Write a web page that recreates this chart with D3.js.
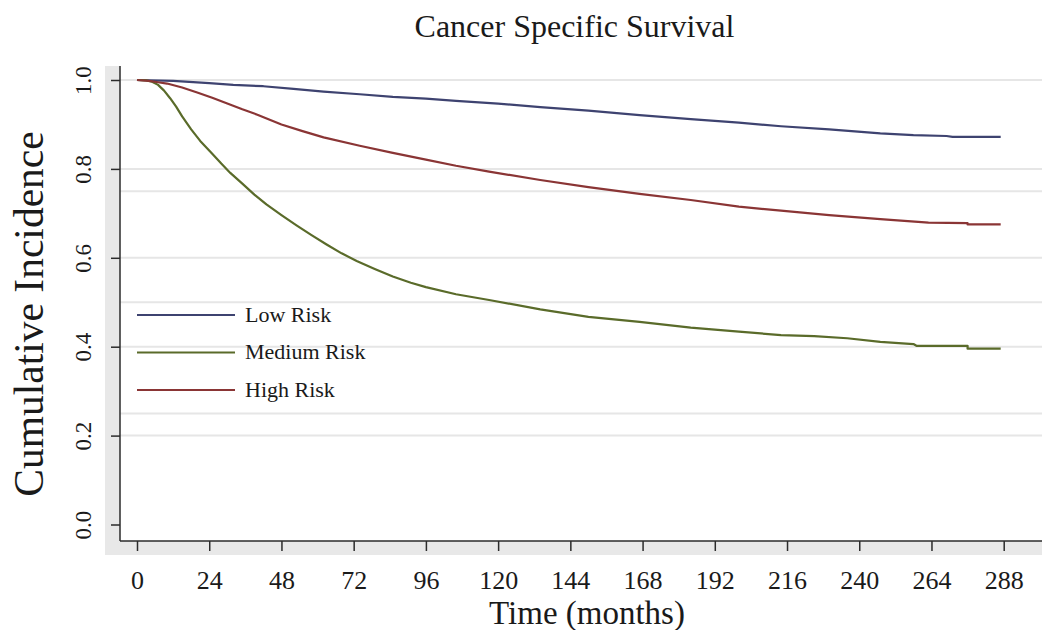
<!DOCTYPE html>
<html>
<head>
<meta charset="utf-8">
<script src="https://cdn.jsdelivr.net/npm/d3@7"></script>
<style>
  body { margin: 0; background: #fff; }
  text { font-family: "Liberation Serif", "Times New Roman", serif; fill: #1a1a1a; }
</style>
</head>
<body>
<script>
// data: [month, value]
const lowRisk = [[0,1.0],[12,0.998],[24,0.993],[32,0.989],[42,0.986],[52,0.98],[62,0.974],[74,0.968],[85,0.962],[96,0.958],[106,0.953],[120,0.947],[134,0.939],[150,0.931],[167,0.921],[184,0.912],[200,0.904],[214,0.896],[230,0.889],[247,0.88],[258,0.876],[269,0.874],[271,0.872],[287,0.872]];
const mediumRisk = [[0,1.0],[3,0.999],[5,0.996],[7,0.989],[9,0.976],[11,0.959],[13,0.94],[15,0.918],[18,0.889],[21,0.863],[25,0.834],[28,0.812],[31,0.791],[35,0.767],[39,0.742],[43,0.72],[48,0.696],[53,0.673],[58,0.651],[63,0.63],[68,0.61],[73,0.593],[79,0.575],[85,0.558],[91,0.544],[96,0.534],[106,0.518],[117,0.505],[134,0.484],[150,0.467],[167,0.456],[184,0.443],[200,0.434],[214,0.426],[225,0.424],[236,0.419],[247,0.411],[258,0.406],[259,0.402],[276,0.402],[276,0.3955],[287,0.3955]];
const highRisk = [[0,1.0],[4,0.998],[7,0.995],[10,0.992],[15,0.983],[20,0.972],[25,0.96],[30,0.947],[35,0.934],[40,0.922],[48,0.9],[55,0.885],[62,0.871],[74,0.852],[85,0.836],[96,0.821],[106,0.807],[117,0.794],[134,0.775],[150,0.759],[167,0.744],[184,0.73],[200,0.715],[214,0.706],[230,0.696],[247,0.687],[263,0.679],[276,0.678],[276,0.675],[287,0.675]];

const seriesNames = ['Low Risk', 'Medium Risk', 'High Risk'];
const seriesColors = ['#3e4370', '#5a6b2a', '#8a3535'];
const xTicks = [0, 24, 48, 72, 96, 120, 144, 168, 192, 216, 240, 264, 288];
const yTicks = [0, 0.2, 0.4, 0.6, 0.8, 1.0];
const gridValues = [1.0, 0.8, 0.75, 0.6, 0.5, 0.4, 0.25, 0.2];

const W = 1042, H = 630;
// plot frame
const axisX = 120, axisY = 541, frameTop = 66;

const svg = d3.select('body').append('svg')
    .attr('width', W)
    .attr('height', H);

const x = d3.scaleLinear().domain([0, 288]).range([137, 1003.7]);
const y = d3.scaleLinear().domain([0, 1]).range([524.5, 80]);

// grey outer band (left + bottom)
svg.append('rect').attr('x', 105).attr('y', frameTop).attr('width', axisX - 105).attr('height', 555 - frameTop).attr('fill', '#e8e8e8');
svg.append('rect').attr('x', 105).attr('y', axisY).attr('width', W - 105).attr('height', 14).attr('fill', '#e8e8e8');

// gridlines
svg.append('g')
    .selectAll('line')
    .data(gridValues)
    .enter()
    .append('line')
    .attr('x1', axisX)
    .attr('x2', W)
    .attr('y1', d => y(d))
    .attr('y2', d => y(d))
    .attr('stroke', '#e6e6e6')
    .attr('stroke-width', 2);

// y axis
const yAxis = svg.append('g')
    .attr('transform', `translate(${axisX},0)`)
    .call(d3.axisLeft(y).tickValues(yTicks).tickSize(9).tickFormat(d3.format('.1f')));
yAxis.select('.domain').remove();
yAxis.selectAll('line').attr('stroke', '#2b2b2b').attr('stroke-width', 1.5);
yAxis.selectAll('text')
    .attr('x', null)
    .attr('dy', null)
    .attr('transform', 'translate(-29.5,0) rotate(-90)')
    .attr('text-anchor', 'middle')
    .attr('font-size', 23)
    .attr('fill', '#1a1a1a');

// x axis
const xAxis = svg.append('g')
    .attr('transform', `translate(0,${axisY})`)
    .call(d3.axisBottom(x).tickValues(xTicks).tickSize(10).tickFormat(d3.format('d')));
xAxis.select('.domain').remove();
xAxis.selectAll('line').attr('stroke', '#2b2b2b').attr('stroke-width', 1.5);
xAxis.selectAll('text')
    .attr('y', 48)
    .attr('dy', null)
    .attr('font-size', 26)
    .attr('fill', '#1a1a1a');

// axis lines
svg.append('line').attr('x1', axisX).attr('x2', axisX).attr('y1', frameTop).attr('y2', axisY)
    .attr('stroke', '#2b2b2b').attr('stroke-width', 1.5);
svg.append('line').attr('x1', axisX).attr('x2', W).attr('y1', axisY).attr('y2', axisY)
    .attr('stroke', '#2b2b2b').attr('stroke-width', 1.5);

// curves
const line = d3.line()
    .x(d => x(d[0]))
    .y(d => y(d[1]));

[lowRisk, mediumRisk, highRisk].forEach((s, i) => {
    svg.append('path')
        .datum(s)
        .attr('fill', 'none')
        .attr('stroke', seriesColors[i])
        .attr('stroke-width', 2.2)
        .attr('stroke-linejoin', 'round')
        .attr('d', line);
});

// legend
const legendY = [315, 352.5, 390];
const legend = svg.append('g')
    .selectAll('g')
    .data(seriesNames)
    .enter()
    .append('g')
    .attr('transform', (d, i) => `translate(0,${legendY[i]})`);
legend.append('line')
    .attr('x1', 137).attr('x2', 235)
    .attr('stroke', (d, i) => seriesColors[i])
    .attr('stroke-width', 2);
legend.append('text')
    .attr('x', 245)
    .attr('y', 6.5)
    .attr('font-size', 22)
    .text(d => d);

// titles
svg.append('text')
    .attr('x', 574.5)
    .attr('y', 37)
    .attr('text-anchor', 'middle')
    .attr('font-size', 32)
    .text('Cancer Specific Survival');

svg.append('text')
    .attr('x', 587)
    .attr('y', 624)
    .attr('text-anchor', 'middle')
    .attr('font-size', 33)
    .text('Time (months)');

svg.append('text')
    .attr('transform', 'translate(43,314) rotate(-90)')
    .attr('text-anchor', 'middle')
    .attr('font-size', 41.5)
    .text('Cumulative Incidence');
</script>
</body>
</html>
